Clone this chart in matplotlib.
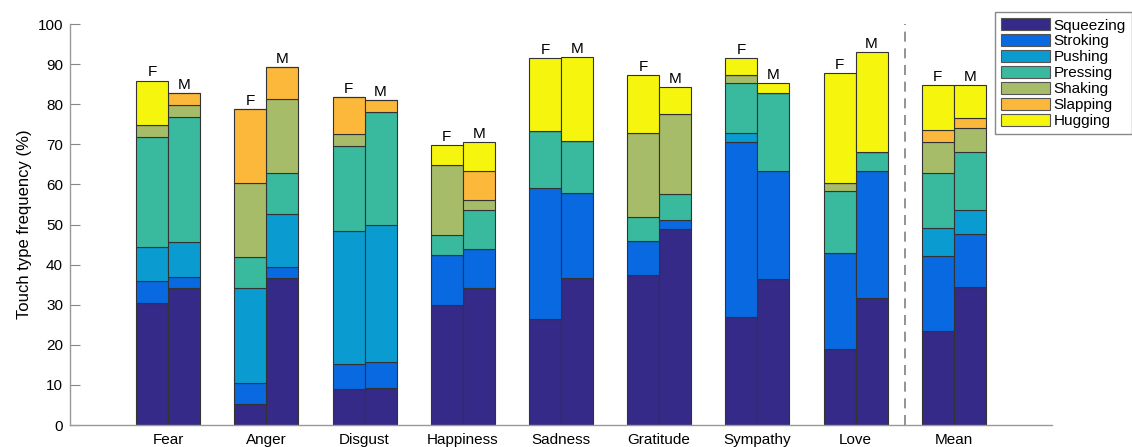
import matplotlib
matplotlib.use("Agg")
import matplotlib.pyplot as plt
import numpy as np

plt.rcParams['font.family'] = ['Liberation Sans', 'DejaVu Sans']

categories = ["Fear", "Anger", "Disgust", "Happiness", "Sadness",
              "Gratitude", "Sympathy", "Love", "Mean"]
touch_types = ["Squeezing", "Stroking", "Pushing", "Pressing",
               "Shaking", "Slapping", "Hugging"]

# values in % (F = female, M = male)
squeezing_f = [30.4, 5.2, 9.0, 29.9, 26.5, 37.5, 27.0, 18.9, 23.5]
squeezing_m = [34.2, 36.7, 9.3, 34.1, 36.7, 48.8, 36.5, 31.7, 34.3]
stroking_f = [5.6, 5.2, 6.1, 12.5, 32.6, 8.3, 43.6, 24.1, 18.7]
stroking_m = [2.8, 2.6, 6.3, 9.7, 21.1, 2.2, 26.8, 31.7, 13.3]
pushing_f = [8.3, 23.7, 33.2, 0, 0, 0, 2.1, 0, 7.0]
pushing_m = [8.6, 13.2, 34.3, 0, 0, 0, 0, 0, 6.0]
pressing_f = [27.6, 7.9, 21.3, 5.1, 14.2, 6.1, 12.5, 15.4, 13.6]
pressing_m = [31.3, 10.4, 28.1, 9.7, 13.1, 6.6, 19.6, 4.6, 14.6]
shaking_f = [2.9, 18.3, 3.0, 17.3, 0, 20.8, 2.2, 1.9, 7.8]
shaking_m = [2.9, 18.4, 0, 2.5, 0, 20.0, 0, 0, 5.8]
slapping_f = [0, 18.4, 9.1, 0, 0, 0, 0, 0, 3.0]
slapping_m = [2.9, 7.9, 3.0, 7.3, 0, 0, 0, 0, 2.6]
hugging_f = [11.1, 0, 0, 5.0, 18.2, 14.6, 4.0, 27.4, 11.2]
hugging_m = [0, 0, 0, 7.3, 20.8, 6.6, 2.3, 24.9, 8.2]

female = [squeezing_f, stroking_f, pushing_f, pressing_f, shaking_f, slapping_f, hugging_f]
male = [squeezing_m, stroking_m, pushing_m, pressing_m, shaking_m, slapping_m, hugging_m]

colors = ["#352a87", "#0869e0", "#0a9bd0", "#39b99d",
          "#a6bc68", "#fbb83b", "#f5f50e"]

fig = plt.figure(figsize=(11.32, 4.47), dpi=100)
ax = fig.add_axes([0.0618, 0.0492, 0.8675, 0.8971])

x = np.arange(1, len(categories) + 1)
w = 0.326
edge = "#333333"

bottom_f = np.zeros(len(categories))
bottom_m = np.zeros(len(categories))
for i, name in enumerate(touch_types):
    vf = np.array(female[i], dtype=float)
    vm = np.array(male[i], dtype=float)
    ax.bar(x - w / 2, vf, w, bottom=bottom_f, color=colors[i],
           edgecolor=edge, linewidth=0.8, label=name)
    ax.bar(x + w / 2, vm, w, bottom=bottom_m, color=colors[i],
           edgecolor=edge, linewidth=0.8)
    bottom_f += vf
    bottom_m += vm

for xi, tf, tm in zip(x, bottom_f, bottom_m):
    ax.annotate("F", (xi - w / 2, tf), xytext=(0, 1), textcoords="offset points",
                ha="center", va="bottom", fontsize=11)
    ax.annotate("M", (xi + w / 2, tm), xytext=(0, 1), textcoords="offset points",
                ha="center", va="bottom", fontsize=11)

# separator before the mean
ax.axvline(8.5, color="#808080", linestyle=(0, (6, 4)), linewidth=1.2)

ax.set_xlim(0, 10)
ax.set_ylim(0, 100)
ax.set_xticks(x)
ax.set_xticklabels(categories, fontsize=11)
ax.set_yticks(np.arange(0, 101, 10))
ax.tick_params(axis='y', direction='in', length=7, width=0.8, color="#888888",
               labelsize=11, pad=5)
ax.tick_params(axis='x', length=0, pad=6)
ax.set_ylabel("Touch type frequency (%)", fontsize=12, labelpad=4)

for s in ["top", "right"]:
    ax.spines[s].set_visible(False)
for s in ["left", "bottom"]:
    ax.spines[s].set_color("#999999")
    ax.spines[s].set_linewidth(1.0)

leg = ax.legend(loc="upper left", bbox_to_anchor=(0.879, 0.973),
                bbox_transform=fig.transFigure, fontsize=11, frameon=True,
                fancybox=False, framealpha=1, edgecolor="#888888",
                handlelength=3.2, handleheight=0.85, handletextpad=0.25,
                labelspacing=0.1, borderpad=0.4, borderaxespad=0)
leg.get_frame().set_linewidth(1.0)
for h in leg.legend_handles:
    h.set_edgecolor("#555555")

fig.savefig("out.png", dpi=100)
